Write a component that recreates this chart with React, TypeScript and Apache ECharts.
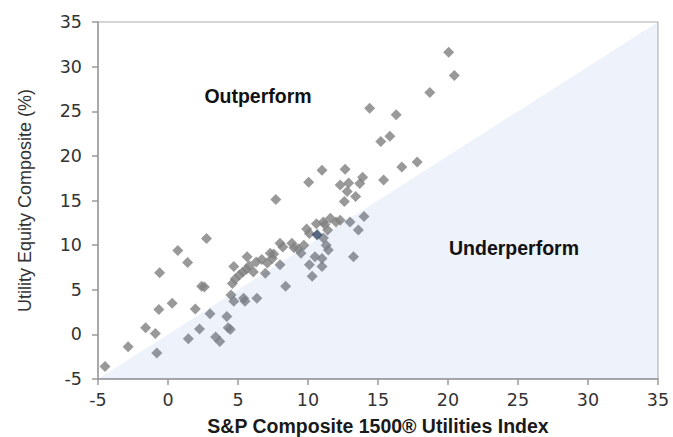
import React, { useEffect, useRef } from "react";
import * as echarts from "echarts";

// [S&P Composite 1500 Utilities Index return, Utility Equity Composite return]
const points: number[][] = [
  [-4.5, -3.6], [-2.85, -1.4], [-1.6, 0.75], [-0.9, 0.1], [-0.8, -2.1],
  [-0.65, 2.8], [-0.6, 6.9], [0.3, 3.5], [0.7, 9.4], [1.4, 8.05],
  [1.45, -0.5], [1.95, 2.85], [2.25, 0.6], [2.4, 5.4], [2.6, 5.3],
  [2.75, 10.75], [3.0, 2.3], [3.4, -0.3], [3.7, -0.8], [4.2, 2.0],
  [4.3, 0.75], [4.45, 0.55], [4.5, 4.4], [4.6, 5.7], [4.7, 7.6],
  [4.7, 3.7], [4.8, 6.2], [5.1, 6.65], [5.4, 4.05], [5.5, 3.7],
  [5.35, 7.0], [5.65, 8.7], [5.8, 7.7], [5.6, 7.3], [6.1, 7.0],
  [6.3, 8.1], [6.35, 4.05], [6.7, 8.4], [6.95, 6.85], [7.1, 8.0],
  [7.3, 9.1], [7.45, 8.5], [7.55, 9.0], [7.7, 15.1], [8.0, 7.8],
  [8.0, 10.2], [8.2, 9.8], [8.4, 5.4], [8.85, 10.2], [9.0, 9.7],
  [9.3, 9.6], [9.5, 9.1], [9.7, 10.0], [9.9, 11.8], [10.1, 11.3],
  [10.3, 6.5], [10.1, 7.8], [10.5, 8.7], [11.0, 7.6], [11.0, 8.5],
  [11.1, 10.8], [11.3, 10.0], [11.45, 9.45], [11.4, 11.7], [10.6, 12.4],
  [11.1, 12.6], [11.6, 13.0], [10.05, 17.05], [11.0, 18.4], [12.65, 18.5],
  [12.3, 16.75], [12.9, 16.95], [13.7, 16.9], [13.9, 17.6], [12.8, 16.0],
  [13.4, 15.45], [12.6, 14.9], [12.3, 12.8], [13.0, 12.6], [14.0, 13.2],
  [13.6, 11.7], [13.25, 8.7], [14.4, 25.35], [15.4, 17.3], [15.2, 21.6],
  [15.85, 22.2], [16.3, 24.6], [16.7, 18.75], [17.8, 19.3], [18.7, 27.1],
  [20.05, 31.6], [20.45, 29.0], [12.0, 12.6], [11.2, 12.3],
];

const highlighted: number[][] = [[10.65, 11.15]];

// Break-even diagonal (y = x) bounding the "Underperform" region
const diagonal: number[][] = [[-5, -5], [35, 35]];

const axisMin = -5;
const axisMax = 35;
const axisStep = 5;

const xTitle = "S&P Composite 1500® Utilities Index";
const yTitle = "Utility Equity Composite (%)";
const outLabel = "Outperform";
const underLabel = "Underperform";

export default function App() {
  const ref = useRef<HTMLDivElement>(null);

  useEffect(() => {
    if (!ref.current) return;
    const chart = echarts.init(ref.current, null, { renderer: "svg" });
    const tickFont = {
      fontFamily: "DejaVu Sans",
      fontSize: 17.5,
      color: "#333333",
    };
    chart.setOption({
      animation: false,
      backgroundColor: "#ffffff",
      grid: {
        left: 98,
        right: 15,
        top: 22,
        bottom: 58,
        outerBoundsMode: "none",
        containLabel: false,
        show: true,
        borderColor: "#c8c8c8",
        borderWidth: 1.5,
        backgroundColor: "transparent",
      },
      xAxis: {
        type: "value",
        min: axisMin,
        max: axisMax,
        interval: axisStep,
        name: xTitle,
        nameLocation: "middle",
        nameGap: 37,
        nameTextStyle: {
          fontFamily: "Liberation Sans",
          fontWeight: "bold",
          fontSize: 19.5,
          color: "#1a1a1a",
          verticalAlign: "top",
        },
        axisLine: { show: true, onZero: false, lineStyle: { color: "#9a9a9a", width: 1.5 } },
        axisTick: { show: true, length: 6, lineStyle: { color: "#9a9a9a", width: 1.5 } },
        axisLabel: { ...tickFont, margin: 12 },
        splitLine: { show: false },
      },
      yAxis: {
        type: "value",
        min: axisMin,
        max: axisMax,
        interval: axisStep,
        name: yTitle,
        nameLocation: "middle",
        nameGap: 64,
        nameTextStyle: {
          fontFamily: "Liberation Sans",
          fontSize: 18,
          color: "#333333",
        },
        axisLine: { show: true, onZero: false, lineStyle: { color: "#9a9a9a", width: 1.5 } },
        axisTick: { show: true, length: 6, lineStyle: { color: "#9a9a9a", width: 1.5 } },
        axisLabel: { ...tickFont, margin: 16 },
        splitLine: { show: false },
      },
      series: [
        {
          type: "scatter",
          data: points,
          symbol: "diamond",
          symbolSize: [11, 11],
          itemStyle: { color: "#808080" },
          z: 2,
          silent: true,
        },
        {
          type: "scatter",
          data: highlighted,
          symbol: "diamond",
          symbolSize: [11, 11],
          itemStyle: { color: "#2f4466" },
          z: 2,
          silent: true,
        },
        {
          type: "line",
          data: diagonal,
          symbol: "none",
          lineStyle: { width: 0, opacity: 0 },
          areaStyle: { origin: "start", color: "rgba(68,114,196,0.13)" },
          z: 5,
          silent: true,
        },
      ],
      graphic: [
        {
          type: "text",
          x: 258,
          y: 96,
          style: {
            text: outLabel,
            fontFamily: "Liberation Sans",
            fontWeight: "bold",
            fontSize: 19.5,
            fill: "#111111",
            align: "center",
            verticalAlign: "middle",
          },
          z: 10,
        },
        {
          type: "text",
          x: 514,
          y: 248,
          style: {
            text: underLabel,
            fontFamily: "Liberation Sans",
            fontWeight: "bold",
            fontSize: 19.5,
            fill: "#111111",
            align: "center",
            verticalAlign: "middle",
          },
          z: 10,
        },
      ],
    });
    return () => chart.dispose();
  }, []);

  return (
    <div
      ref={ref}
      style={{ position: "fixed", left: 0, top: 0, width: 673, height: 437 }}
    />
  );
}
